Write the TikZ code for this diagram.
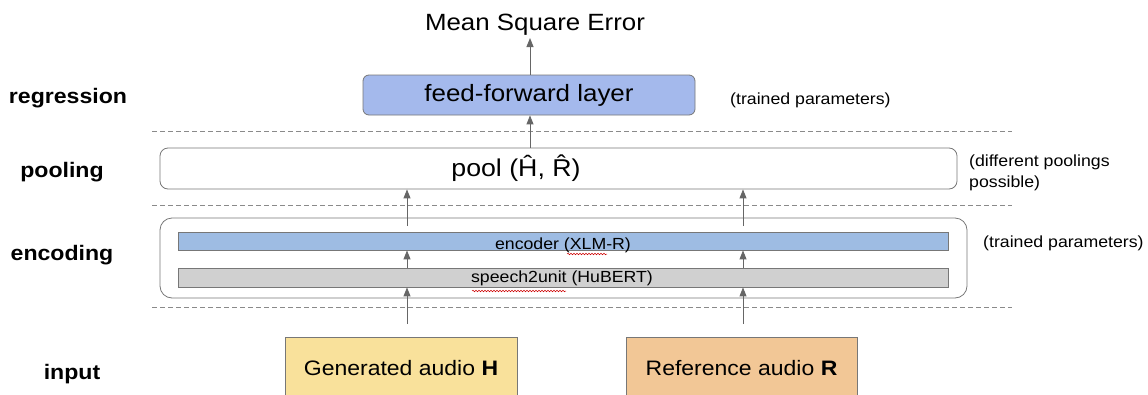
\documentclass[tikz,border=0pt]{standalone}
\usepackage{fontspec}
\setmainfont{Liberation Sans}[FakeStretch=1.1]
\usetikzlibrary{arrows.meta,decorations.pathmorphing}
\definecolor{ffblue}{HTML}{A4B9EC}
\definecolor{encblue}{HTML}{9EBCE3}
\definecolor{unitgray}{HTML}{D0D0D0}
\definecolor{genyellow}{HTML}{F9E19B}
\definecolor{reforange}{HTML}{F2C796}
\definecolor{edgegray}{HTML}{777777}
\definecolor{arrgray}{HTML}{666666}
\definecolor{dashgray}{HTML}{8A8A8A}
\begin{document}
\begin{tikzpicture}[x=1pt,y=-1pt,
  big/.style={font=\fontsize{23.5}{27}\selectfont, inner sep=0pt},
  lbl/.style={font=\fontsize{21}{25}\selectfont\bfseries, inner sep=0pt},
  note/.style={font=\fontsize{16.1}{21}\selectfont, inner sep=0pt, anchor=west, align=left},
  small/.style={font=\fontsize{16.1}{20}\selectfont},
  blk/.style={draw=edgegray, line width=0.8pt, inner sep=0pt},
  arr/.style={draw=arrgray, line width=0.9pt, -{Triangle[length=9pt,width=7pt]}},
  sep/.style={draw=dashgray, line width=0.8pt, dash pattern=on 5pt off 3pt},
  squig/.style={draw=red!80!black, line width=0.5pt, decorate, decoration={snake, amplitude=0.8pt, segment length=3pt}}
]
\useasboundingbox (0,0) rectangle (1148,394);
\clip (0,0) rectangle (1148,394);

% layer labels
\node[lbl] (lreg) at (68,98) {regression};
\node[lbl] (lpool) at (62,172) {pooling};
\node[lbl] (lenc) at (62,255) {encoding};
\node[lbl] (lin) at (72,374) {input};

% dashed separators
\coordinate (d1l) at (152,131); \coordinate (d1r) at (1012,131);
\coordinate (d2l) at (152,205); \coordinate (d2r) at (1012,205);
\coordinate (d3l) at (152,307); \coordinate (d3r) at (1012,307);
\draw[sep] (d1l) -- (d1r);
\draw[sep] (d2l) -- (d2r);
\draw[sep] (d3l) -- (d3r);

% top
\node[big] (mse) at (535,25) {Mean Square Error};
\node[blk, fill=ffblue, rounded corners=6pt, minimum width=332pt, minimum height=40pt, font=\fontsize{23.6}{27}\selectfont] (ffl) at (529,95) {feed-forward layer};

% pooling
\node[blk, rounded corners=8pt, minimum width=797pt, minimum height=41pt, font=\fontsize{24.3}{28}\selectfont] (pool) at (558.5,168.5) {\raisebox{-2pt}{pool (\^{H}, \^{R})}\kern85pt\null};

% encoding
\node[blk, rounded corners=12pt, minimum width=807pt, minimum height=80pt] (outer) at (563.5,258) {};
\node[blk, small, fill=encblue, minimum width=770pt, minimum height=18pt] (enc) at (563,241) {\raisebox{-8.5pt}[0pt][0pt]{encoder (XLM-R)}};
\node[blk, small, fill=unitgray, minimum width=770pt, minimum height=19pt] (s2u) at (563,277.5) {\hspace{-2pt}\raisebox{-5pt}[0pt][0pt]{speech2unit (HuBERT)}};
\draw[squig] (567,254) -- (607,254);
\draw[squig] (472,291) -- (566,291);

% inputs
\node[blk, fill=genyellow, minimum width=232pt, minimum height=62pt, font=\fontsize{20.9}{25}\selectfont] (gen) at (401,368) {Generated audio \textbf{H}};
\node[blk, fill=reforange, minimum width=231pt, minimum height=62pt, font=\fontsize{20.9}{25}\selectfont] (ref) at (741.5,368) {Reference audio \textbf{R}};

% notes
\node[note] (n1) at (730,100) {(trained parameters)};
\node[note] (n2) at (969,172.5) {(different poolings\\possible)};
\node[note] (n3) at (983,243) {(trained parameters)};

% arrows
\coordinate (a1) at (407,324);
\coordinate (b1) at (743,324);
\coordinate (a2) at (407,226);
\coordinate (b2) at (743,226);
\coordinate (mseb) at (530,38);
\draw[arr] (a1) -- (a1 |- s2u.south);
\draw[arr] (b1) -- (b1 |- s2u.south);
\draw[arr] (a1 |- s2u.north) -- (a1 |- enc.south);
\draw[arr] (b1 |- s2u.north) -- (b1 |- enc.south);
\draw[arr] (a2) -- (a2 |- pool.south);
\draw[arr] (b2) -- (b2 |- pool.south);
\draw[arr] (mseb |- pool.north) -- (mseb |- ffl.south);
\draw[arr] (mseb |- ffl.north) -- (mseb);
\end{tikzpicture}
\end{document}
